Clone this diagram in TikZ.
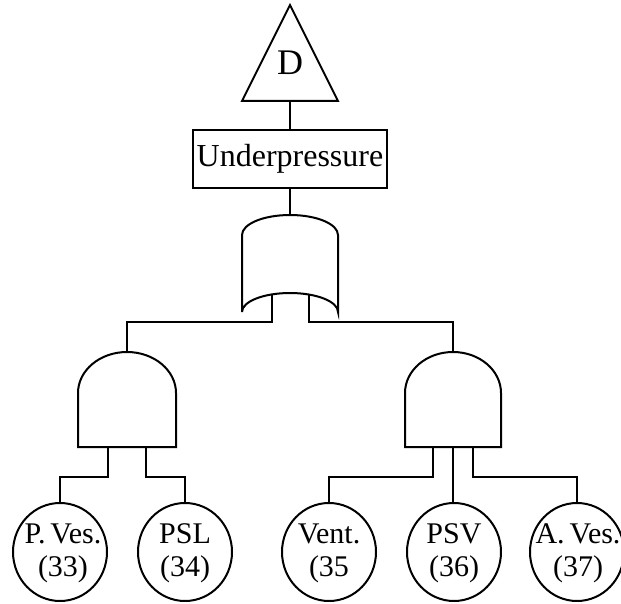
\documentclass[tikz,border=0pt]{standalone}
\usepackage{fontspec}
\setmainfont{Liberation Serif}
\usetikzlibrary{shapes.geometric}
\begin{document}
\begin{tikzpicture}[x=1pt,y=-1pt,
  ln/.style={line width=2pt,black,line join=miter},
  evt/.style={ellipse,draw,line width=2pt,minimum width=94pt,minimum height=98pt,inner sep=0pt},
  evttext/.style={inner sep=0pt,align=center,font=\fontsize{30}{33}\selectfont},
  lbl/.style={inner sep=0pt}]
\useasboundingbox (0,0) rectangle (621,604);
% top triangle
\draw[ln] (290,5) -- (338,101) -- (242,101) -- cycle;
\node[lbl,font=\fontsize{36}{40}\selectfont] (D) at (290,63) {D};
\coordinate (triB) at (290,101);
% box
\node[draw,line width=2pt,minimum width=194pt,minimum height=58pt,inner sep=0pt,
  font=\fontsize{32}{36}\selectfont] (box) at (290,159) {Underpressure};
% OR gate
\draw[ln] (242,312) -- (242,235) arc[start angle=180,end angle=360,x radius=48,y radius=20] -- (338,312)
  arc[start angle=0,end angle=-180,x radius=48,y radius=19];
\coordinate (orOut) at (290,215);
\coordinate (orIn1) at (272,294.4);
\coordinate (orIn2) at (309,294.1);
% left AND gate
\draw[ln] (78,447) -- (78,393) arc[start angle=180,end angle=360,x radius=49,y radius=41] -- (176,447) -- cycle;
\coordinate (andLOut) at (127,352);
\coordinate (andLIn1) at (108,447);
\coordinate (andLIn2) at (146,447);
% right AND gate
\draw[ln] (405,447) -- (405,393) arc[start angle=180,end angle=360,x radius=48,y radius=41] -- (501,447) -- cycle;
\coordinate (andROut) at (453,352);
\coordinate (andRIn1) at (433,447);
\coordinate (andRIn2) at (453,447);
\coordinate (andRIn3) at (473,447);
% basic events
\node[evt] (e33) at (60,552) {};
\node[evt] (e34) at (185,552) {};
\node[evt] (e35) at (329,552) {};
\node[evt] (e36) at (454,552) {};
\node[evt] (e37) at (577,552) {};
\node[evttext] (t33) at (63,553) {P.\,Ves.\\(33)};
\node[evttext] (t34) at (185,553) {PSL\\(34)};
\node[evttext] (t35) at (329,553) {Vent.\\(35};
\node[evttext] (t36) at (454,553) {PSV\\(36)};
\node[evttext] (t37) at (578,553) {A.\,Ves.\\(37)};
% connectors
\draw[ln] (triB) -- (box.north);
\draw[ln] (box.south) -- (orOut);
\draw[ln] (orIn1) -- (orIn1 |- 0,322) -| (andLOut);
\draw[ln] (orIn2) -- (orIn2 |- 0,322) -| (andROut);
\draw[ln] (andLIn1) -- (andLIn1 |- 0,477) -| (e33.north);
\draw[ln] (andLIn2) -- (andLIn2 |- 0,477) -| (e34.north);
\draw[ln] (andRIn1) -- (andRIn1 |- 0,477) -| (e35.north);
\draw[ln] (andRIn2) -- (andRIn2 |- e36.north) -- (e36.north);
\draw[ln] (andRIn3) -- (andRIn3 |- 0,477) -| (e37.north);
\end{tikzpicture}
\end{document}
